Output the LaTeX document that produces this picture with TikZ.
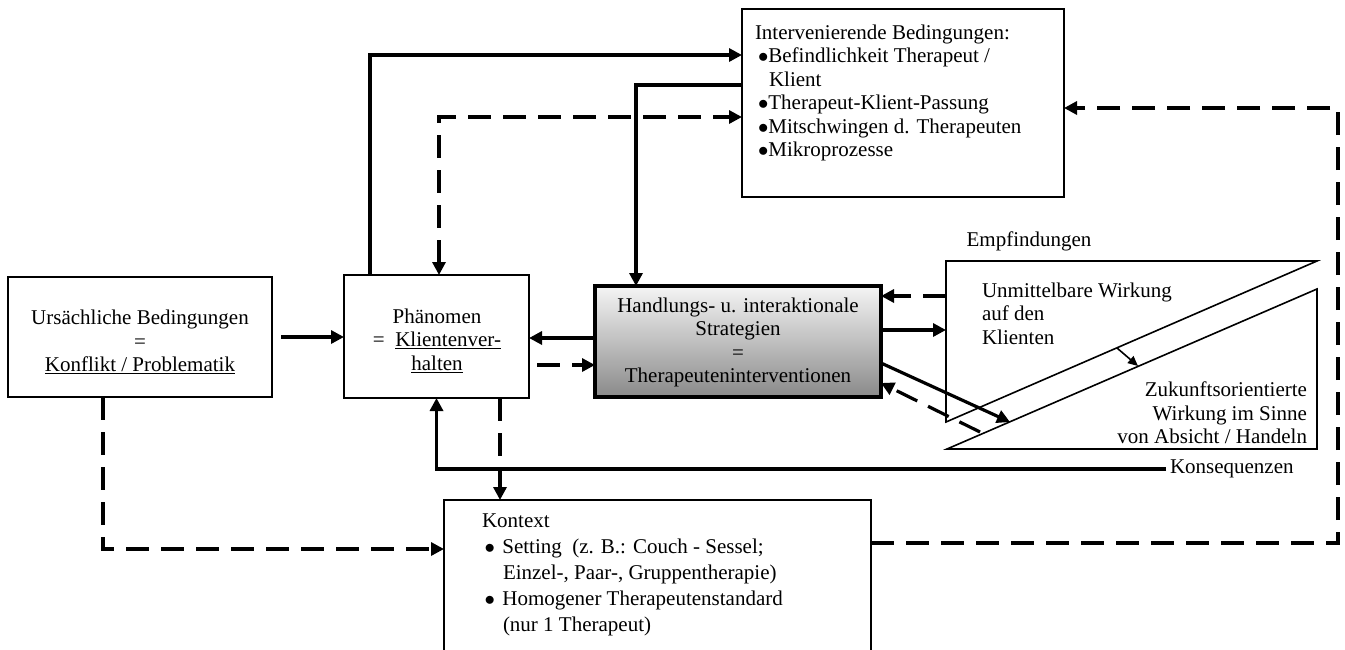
\documentclass[tikz,border=0pt]{standalone}
\usepackage{fontspec}
\setmainfont{Liberation Serif}
\usetikzlibrary{arrows.meta,calc}
\begin{document}
\begin{tikzpicture}[x=1pt,y=-1pt,
  every node/.style={font=\fontsize{21}{23.5}\selectfont, inner sep=0pt, outer sep=0pt},
  box/.style={draw, line width=2pt, anchor=north west},
  conn/.style={line width=3.2pt, -{Triangle[length=13pt,width=13pt]}},
  dconn/.style={conn, dash pattern=on 23pt off 12pt},
  tri/.style={line width=1.6pt, line join=miter},
]
\useasboundingbox (0,0) rectangle (1345,649);

% boxes
\node[box, minimum width=264pt, minimum height=120pt] (ub) at (8,277) {};
\node[box, minimum width=185pt, minimum height=123pt] (ph) at (344,275) {};
\node[box, line width=4pt, minimum width=286pt, minimum height=111pt,
      top color=white!96!black, bottom color=black!46] (hs) at (595,286) {};
\node[box, minimum width=322pt, minimum height=188pt] (ib) at (742,9) {};
\node[box, minimum width=427pt, minimum height=200pt] (ko) at (444,500) {};

% effect triangles
\coordinate (a1) at (946,261);
\coordinate (a2) at (1317,261);
\coordinate (a3) at (946,422);
\coordinate (b1) at (947,449);
\coordinate (b2) at (1317,449);
\coordinate (b3) at (1317,289);
\draw[tri] (a1) -- (a2) -- (a3) -- cycle;
\draw[tri] (b1) -- (b2) -- (b3) -- cycle;

% texts
\node[align=center] (ubt) at (140,342) {Ursächliche Bedingungen\\=\\\underline{Konflikt / Problematik}};
\node[align=center] (pht) at (437,340.5) {Phänomen\\=\ \ \underline{Klientenver-}\\\underline{halten}};
\node[align=center] (hst) at (738,342.5) {Handlungs- u. interaktionale\\Strategien\\=\\Therapeuteninterventionen};
\node[align=left, anchor=west] (ibt) at (755,93) {Intervenierende Bedingungen:\\
  \hspace*{3pt}$\bullet$Befindlichkeit Therapeut /\\
  \hspace*{14pt}Klient\\
  \hspace*{3pt}$\bullet$Therapeut-Klient-Passung\\
  \hspace*{3pt}$\bullet$Mitschwingen d. Therapeuten\\
  \hspace*{3pt}$\bullet$Mikroprozesse};
\node[align=left, anchor=west, font=\fontsize{21}{26}\selectfont] (kot) at (482,575) {Kontext\\
  \hspace*{2.5pt}$\bullet$\hspace{7.5pt}Setting~ (z. B.: Couch - Sessel;\\
  \hspace*{21pt}Einzel-, Paar-, Gruppentherapie)\\
  \hspace*{2.5pt}$\bullet$\hspace{7.5pt}Homogener Therapeutenstandard\\
  \hspace*{21pt}(nur 1 Therapeut)};
\node (emp) at (1029,241) {Empfindungen};
\node[align=left, anchor=west] (unm) at (982,313.5) {Unmittelbare Wirkung\\auf den\\Klienten};
\node[align=right, anchor=east] (zuk) at (1307,413) {Zukunftsorientierte\\Wirkung im Sinne\\von Absicht / Handeln};
\node[anchor=west, inner xsep=4pt] (kons) at (1166,469) {Konsequenzen};

% connectors
\draw[conn] ([xshift=9pt]ub.east) -- (ub.east -| ph.west);
\draw[conn] ([xshift=26pt]ph.north west) |- ([yshift=-46pt]ib.north west);
\draw[conn] ([yshift=-76pt]ib.north west) -| ([xshift=41pt]hs.north west);
\draw[dconn, {Triangle[length=13pt,width=13pt]}-{Triangle[length=13pt,width=13pt]}]
  ([xshift=95pt]ph.north west) |- ([yshift=-108pt]ib.north west);
\draw[conn] (hs.west |- 0,338) -- (ph.east |- 0,338);
\draw[dconn] ([xshift=8pt]ph.east |- 0,365) -- (hs.west |- 0,365);
\draw[dconn] (a1 |- 0,296) -- (hs.east |- 0,296);
\draw[conn] (hs.east |- 0,330) -- (a1 |- 0,330);
\draw[conn] (hs.east |- 0,363) -- (1010,422);
\draw[dconn] (980,432) -- (hs.east |- 0,383);
\draw[line width=1.6pt, -{Triangle[length=10pt,width=9pt]}] (1117,348) -- (1138,366);
\draw[conn] (kons.west) -| (ph.south);
\draw[dconn] ([xshift=63.5pt]ph.south) -- ([xshift=63.5pt]ph.south |- ko.north);
\draw[dconn] ([xshift=95pt]ub.south west) |- (ko.west |- 0,549);
\coordinate (rt) at (1338,108);
\draw[dconn] (ko.east |- 0,543) -| (rt) -- (rt -| ib.east);
\end{tikzpicture}
\end{document}
